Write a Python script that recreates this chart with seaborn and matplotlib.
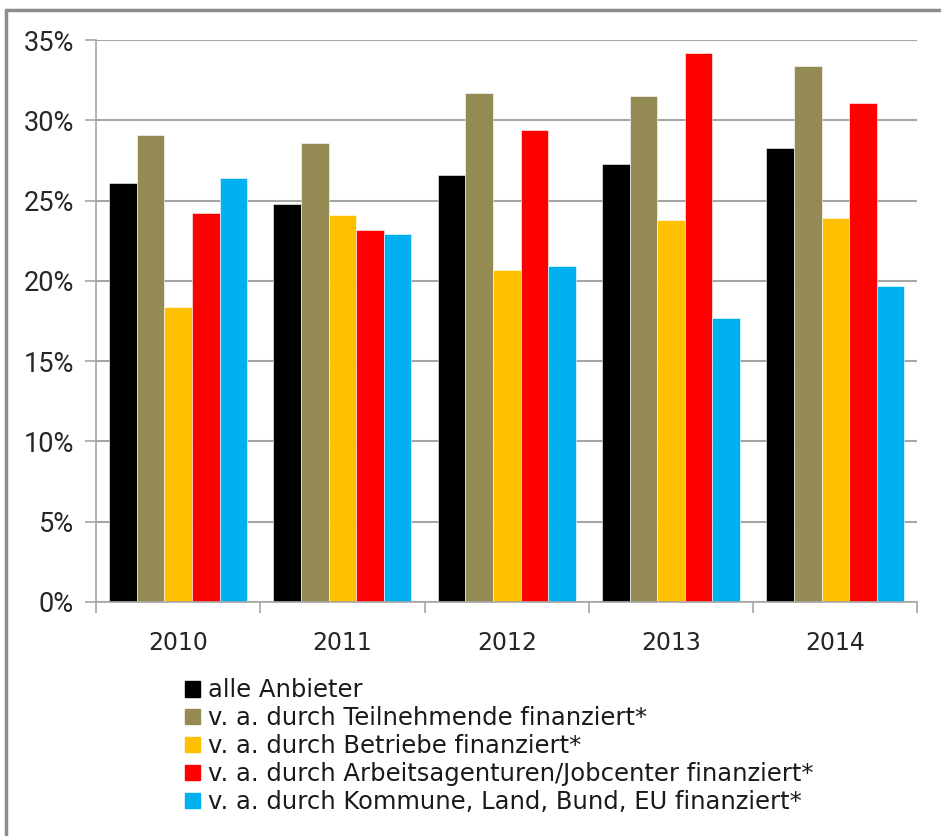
import matplotlib
matplotlib.use("Agg")
import matplotlib.pyplot as plt
import matplotlib.ticker as mticker
from matplotlib.lines import Line2D
import seaborn as sns
import pandas as pd

# Data (percent)
years = ["2010", "2011", "2012", "2013", "2014"]
series = [
    "alle Anbieter",
    "v. a. durch Teilnehmende finanziert*",
    "v. a. durch Betriebe finanziert*",
    "v. a. durch Arbeitsagenturen/Jobcenter finanziert*",
    "v. a. durch Kommune, Land, Bund, EU finanziert*",
]
alle = [26.1, 24.8, 26.6, 27.3, 28.3]
teilnehmende = [29.1, 28.6, 31.7, 31.5, 33.4]
betriebe = [18.4, 24.1, 20.7, 23.8, 23.9]
arbeitsagentur = [24.2, 23.2, 29.4, 34.2, 31.1]
kommune = [26.4, 22.9, 20.9, 17.7, 19.7]
colors = ["#000000", "#948A54", "#FFC000", "#FF0000", "#00B0F0"]

values = [alle, teilnehmende, betriebe, arbeitsagentur, kommune]
rows = []
for name, vals in zip(series, values):
    for y, v in zip(years, vals):
        rows.append({"Jahr": y, "Gruppe": name, "Anteil": v})
df = pd.DataFrame(rows)

sns.set_theme(style="white")
plt.rcParams["font.family"] = ["DejaVu Sans"]

fig = plt.figure(figsize=(9.41, 8.36), dpi=100)
ax = fig.add_axes([0.102, 0.28, 0.873, 0.672])

sns.barplot(data=df, x="Jahr", y="Anteil", hue="Gruppe", hue_order=series,
            palette=colors, width=0.84, ax=ax, legend=False,
            edgecolor="white", linewidth=0.4, saturation=1)

ax.set_ylim(0, 35)
ax.set_xlim(-0.5, 4.5)
ax.yaxis.set_major_locator(mticker.MultipleLocator(5))
ax.yaxis.set_major_formatter(mticker.PercentFormatter(decimals=0))
ax.yaxis.grid(True, color="#A6A6A6", linewidth=1.5)
ax.set_axisbelow(True)
ax.set_xlabel("")
ax.set_ylabel("")

for s in ["top", "right"]:
    ax.spines[s].set_visible(False)
for s in ["left", "bottom"]:
    ax.spines[s].set_color("#A6A6A6")
    ax.spines[s].set_linewidth(1.2)

ax.tick_params(axis="y", which="major", left=True, length=8, width=1.2,
               color="#A6A6A6", pad=8)
ax.tick_params(axis="x", which="major", bottom=False, pad=15)
ax.set_xticks([-0.5, 0.5, 1.5, 2.5, 3.5, 4.5], minor=True)
ax.tick_params(axis="x", which="minor", bottom=True, length=8, width=1.2,
               color="#A6A6A6")
for lab in ax.get_yticklabels():
    lab.set_fontfamily(["Liberation Sans Narrow", "Roboto", "DejaVu Sans"])
    lab.set_fontsize(19.5)
    lab.set_color("#262626")
for lab in ax.get_xticklabels():
    lab.set_fontsize(17)
    lab.set_color("#262626")

handles = [plt.Rectangle((0, 0), 1, 1, color=c) for c in colors]
fig.legend(handles, series, loc="upper left", bbox_to_anchor=(0.184, 0.203),
           frameon=False, fontsize=17.5, handlelength=0.6, handleheight=0.6,
           handletextpad=0.35, labelspacing=0.16, borderpad=0,
           labelcolor="#1a1a1a")

# grey frame around the chart area
fig.add_artist(Line2D([0.006, 0.006], [0.0, 0.988], color="#8C8C8C",
                      linewidth=2.5, transform=fig.transFigure))
fig.add_artist(Line2D([0.006, 1.0], [0.988, 0.988], color="#8C8C8C",
                      linewidth=2.5, transform=fig.transFigure))

fig.savefig("out.png", dpi=100)
